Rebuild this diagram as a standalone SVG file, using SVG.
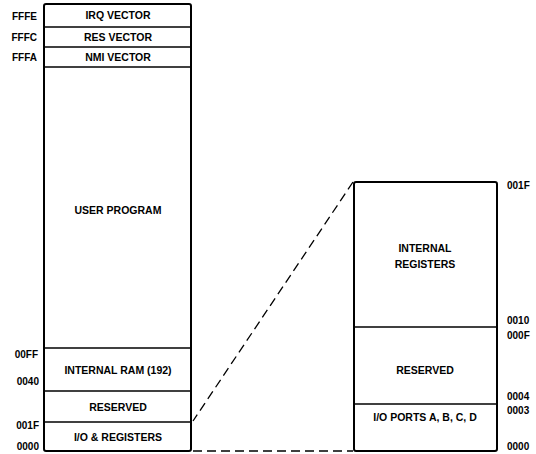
<svg xmlns="http://www.w3.org/2000/svg" width="536" height="454" viewBox="0 0 536 454">
<style>
.box{fill:#fff;stroke:#000;stroke-width:2}
.div{stroke:#000;stroke-width:1.5}
.t{font-family:"Liberation Sans",Arial,sans-serif;font-weight:bold;font-size:10.5px;fill:#000;text-anchor:middle}
.a{font-family:"Liberation Sans",Arial,sans-serif;font-weight:bold;font-size:10px;fill:#000}
.l{text-anchor:end}
.dash{stroke:#000;stroke-width:1.3;stroke-dasharray:9,5;fill:none}
</style>
<rect width="536" height="454" fill="#fff"/>
<g id="connectors">
<line class="dash" x1="353" y1="182" x2="193" y2="421"/>
<line class="dash" x1="193" y1="451" x2="353" y2="451"/>
</g>
<g id="left-map">
<rect class="box" x="44" y="4" width="147" height="447" rx="2"/>
</g>
<g id="irq-vector">
<text class="t" x="118" y="19">IRQ VECTOR</text>
<text class="a l" x="37" y="20">FFFE</text>
</g>
<g id="res-vector">
<line class="div" x1="44" y1="27" x2="191" y2="27"/>
<text class="t" x="118" y="41">RES VECTOR</text>
<text class="a l" x="37" y="41">FFFC</text>
</g>
<g id="nmi-vector">
<line class="div" x1="44" y1="47" x2="191" y2="47"/>
<text class="t" x="118" y="61">NMI VECTOR</text>
<text class="a l" x="37" y="61">FFFA</text>
</g>
<g id="user-program">
<line class="div" x1="44" y1="67" x2="191" y2="67"/>
<text class="t" x="118" y="214">USER PROGRAM</text>
</g>
<g id="internal-ram">
<line class="div" x1="44" y1="348" x2="191" y2="348"/>
<text class="t" x="118" y="374">INTERNAL RAM (192)</text>
<text class="a l" x="38" y="358">00FF</text>
<text class="a l" x="39" y="385">0040</text>
</g>
<g id="reserved-left">
<line class="div" x1="44" y1="391" x2="191" y2="391"/>
<text class="t" x="118" y="411">RESERVED</text>
</g>
<g id="io-registers">
<line class="div" x1="44" y1="422" x2="191" y2="422"/>
<text class="t" x="118" y="441">I/O &amp; REGISTERS</text>
<text class="a l" x="39" y="429">001F</text>
<text class="a l" x="39" y="450">0000</text>
</g>
<g id="right-map">
<rect class="box" x="354" y="182" width="143" height="269" rx="2"/>
</g>
<g id="internal-registers">
<text class="t" x="425" y="252">INTERNAL</text>
<text class="t" x="425" y="268">REGISTERS</text>
<text class="a" x="507" y="189">001F</text>
</g>
<g id="reserved-right">
<line class="div" x1="354" y1="327" x2="497" y2="327"/>
<text class="t" x="425" y="374">RESERVED</text>
<text class="a" x="507" y="324">0010</text>
<text class="a" x="507" y="339">000F</text>
</g>
<g id="io-ports">
<line class="div" x1="354" y1="404" x2="497" y2="404"/>
<text class="t" x="425" y="421">I/O PORTS A, B, C, D</text>
<text class="a" x="507" y="400">0004</text>
<text class="a" x="507" y="414">0003</text>
<text class="a" x="507" y="450">0000</text>
</g>
</svg>
